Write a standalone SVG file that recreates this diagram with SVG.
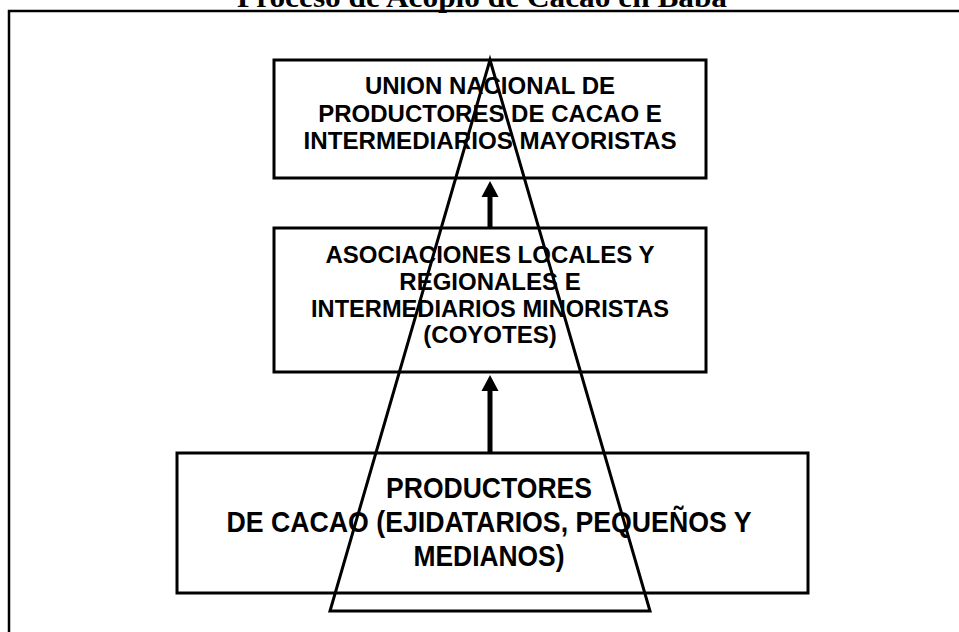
<svg xmlns="http://www.w3.org/2000/svg" width="959" height="632" viewBox="0 0 959 632">
<defs>
<style>
.box{fill:none;stroke:#000;stroke-width:3}
.t{font-family:"Liberation Sans",Arial,sans-serif;font-weight:bold;font-size:24px;fill:#000;text-anchor:middle}
.t3{font-family:"Liberation Sans",Arial,sans-serif;font-weight:bold;font-size:30px;fill:#000;text-anchor:middle}
.title{font-family:"Liberation Serif","Times New Roman",serif;font-weight:bold;font-size:29px;fill:#000;text-anchor:middle}
.frame{fill:none;stroke:#000;stroke-width:2.5}
.shaft{stroke:#000;stroke-width:5}
</style>
</defs>
<rect width="959" height="632" fill="#fff"/>
<text class="title" x="482" y="7" textLength="490" lengthAdjust="spacingAndGlyphs">Proceso de Acopio de Cacao en Baba</text>
<path class="frame" d="M9,632 V11 H959"/>
<g id="node1">
<rect class="box" x="274" y="60" width="432" height="118"/>
<text class="t" x="490" y="94">UNION NACIONAL DE</text>
<text class="t" x="490" y="122">PRODUCTORES DE CACAO E</text>
<text class="t" x="490" y="149" textLength="373" lengthAdjust="spacingAndGlyphs">INTERMEDIARIOS MAYORISTAS</text>
</g>
<g id="node2">
<rect class="box" x="274" y="228" width="432" height="144"/>
<text class="t" x="490" y="263">ASOCIACIONES LOCALES Y</text>
<text class="t" x="490" y="290">REGIONALES E</text>
<text class="t" x="490" y="317" textLength="358" lengthAdjust="spacingAndGlyphs">INTERMEDIARIOS MINORISTAS</text>
<text class="t" x="490" y="343">(COYOTES)</text>
</g>
<g id="node3">
<rect class="box" x="177" y="453" width="631" height="140"/>
<text class="t3" x="489" y="498" textLength="206" lengthAdjust="spacingAndGlyphs">PRODUCTORES</text>
<text class="t3" x="489" y="532" textLength="525" lengthAdjust="spacingAndGlyphs">DE CACAO (EJIDATARIOS, PEQUEÑOS Y</text>
<text class="t3" x="489" y="566" textLength="151" lengthAdjust="spacingAndGlyphs">MEDIANOS)</text>
</g>
<g id="pyramid">
<path d="M490,60 L330,611 H650 Z" fill="none" stroke="#000" stroke-width="3" stroke-linejoin="miter"/>
</g>
<g id="connectors">
<line class="shaft" x1="490" y1="228" x2="490" y2="195"/>
<polygon points="490,181 481.5,197 498.5,197"/>
<line class="shaft" x1="490" y1="453" x2="490" y2="389"/>
<polygon points="490,375 481.5,391 498.5,391"/>
</g>
</svg>
